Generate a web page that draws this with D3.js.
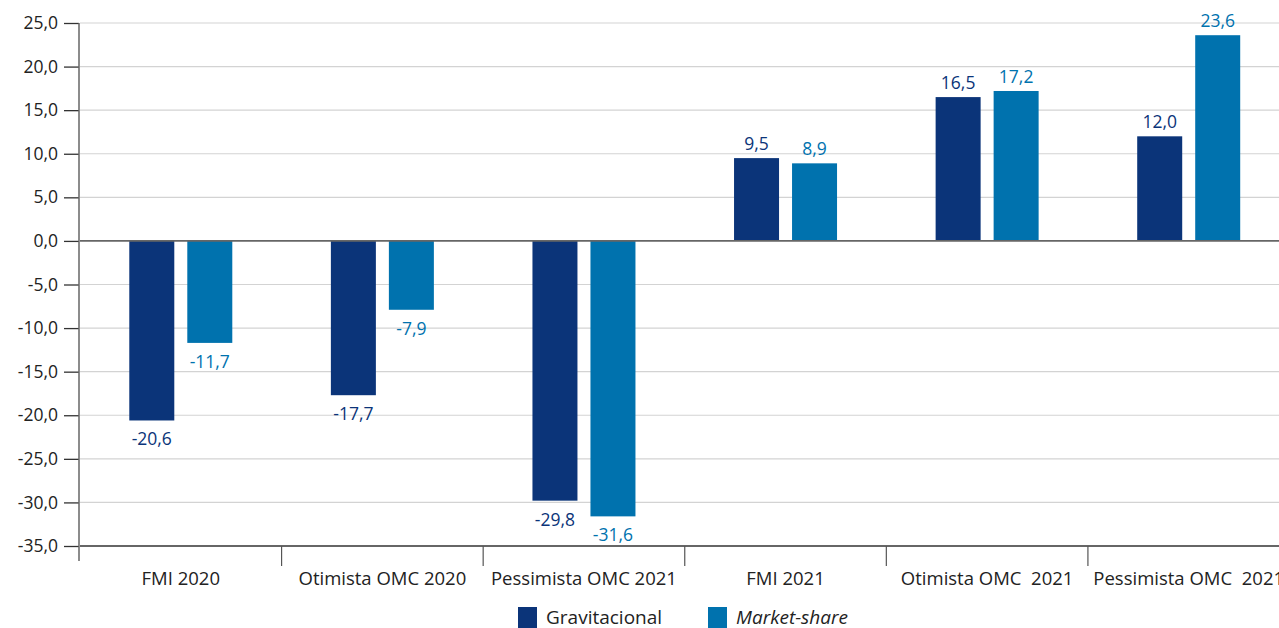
<!DOCTYPE html>
<html>
<head>
<meta charset="utf-8">
<script src="https://cdn.jsdelivr.net/npm/d3@7"></script>
<style>
  html, body { margin: 0; padding: 0; background: #fff; }
  svg { display: block; font-family: "Open Sans", "Noto Sans", sans-serif; }
</style>
</head>
<body>
<svg id="chart" width="1279" height="628"></svg>
<script>
// Categories and series values
const categories = ["FMI 2020", "Otimista OMC 2020", "Pessimista OMC 2021", "FMI 2021", "Otimista OMC  2021", "Pessimista OMC  2021"];
const gravitacional = [-20.6, -17.7, -29.8, 9.5, 16.5, 12.0];
const marketShare = [-11.7, -7.9, -31.6, 8.9, 17.2, 23.6];
const yTicks = [25, 20, 15, 10, 5, 0, -5, -10, -15, -20, -25, -30, -35];
const seriesNames = ["Gravitacional", "Market-share"];

const colors = { grav: "#0b3479", mkt: "#0072ae" };
const fmt = v => v.toFixed(1).replace(".", ",");

const svg = d3.select("#chart");
const plotLeft = 80, plotRight = 1289.5, plotTop = 23, plotBottom = 546;

const y = d3.scaleLinear().domain([-35, 25]).range([plotBottom, plotTop]);
const x0 = d3.scaleBand().domain(categories).range([plotLeft, plotRight]).paddingInner(0).paddingOuter(0);
const barW = 45, gap = 13;

// Grid lines
svg.append("g").selectAll("line").data(yTicks.filter(t => t !== 0 && t !== -35)).join("line")
  .attr("x1", plotLeft).attr("x2", 1279)
  .attr("y1", d => y(d)).attr("y2", d => y(d))
  .attr("stroke", "#d3d3d3").attr("stroke-width", 1.2);

// Y axis
const yAxis = d3.axisLeft(y).tickValues(yTicks).tickSize(15).tickFormat(fmt);
const ya = svg.append("g").attr("transform", `translate(${plotLeft - 1},0)`).call(yAxis);
ya.select(".domain").remove();
ya.selectAll(".tick line").attr("stroke", "#333").attr("stroke-width", 1.3);
ya.selectAll(".tick text").attr("x", -21).attr("fill", "#222")
  .style("font-size", "17.5px").style("font-family", "'Open Sans', sans-serif");
svg.append("line").attr("x1", plotLeft - 1).attr("x2", plotLeft - 1).attr("y1", plotTop).attr("y2", 561)
  .attr("stroke", "#666").attr("stroke-width", 1.5);

// Bars with value labels
const bars = svg.append("g");
categories.forEach((c, i) => {
  const cx = x0(c) + x0.bandwidth() / 2;
  const series = [
    { v: gravitacional[i], x: cx - gap / 2 - barW, col: colors.grav },
    { v: marketShare[i], x: cx + gap / 2, col: colors.mkt }
  ];
  series.forEach(s => {
    bars.append("rect")
      .attr("x", s.x).attr("width", barW)
      .attr("y", Math.min(y(s.v), y(0)))
      .attr("height", Math.abs(y(s.v) - y(0)))
      .attr("fill", s.col);
    bars.append("text")
      .attr("x", s.x + barW / 2)
      .attr("y", s.v >= 0 ? y(s.v) - 8 : y(s.v) + 25)
      .attr("text-anchor", "middle")
      .attr("fill", s.col)
      .style("font-size", "17.5px")
      .text(fmt(s.v));
  });
});

// Zero line and baseline
svg.append("line").attr("x1", plotLeft).attr("x2", 1279).attr("y1", y(0)).attr("y2", y(0))
  .attr("stroke", "#666").attr("stroke-width", 1.6);
svg.append("line").attr("x1", plotLeft).attr("x2", 1279).attr("y1", y(-35)).attr("y2", y(-35))
  .attr("stroke", "#333").attr("stroke-width", 1.5);

// Category separators and labels
const xa = svg.append("g");
categories.forEach((c, i) => {
  if (i > 0) {
    xa.append("line").attr("x1", x0(c)).attr("x2", x0(c)).attr("y1", y(-35)).attr("y2", 566)
      .attr("stroke", "#555").attr("stroke-width", 1.2);
  }
  xa.append("text")
    .attr("x", x0(c) + x0.bandwidth() / 2).attr("y", 585)
    .attr("text-anchor", "middle").attr("fill", "#222")
    .style("font-size", "18.5px").style("white-space", "pre")
    .attr("xml:space", "preserve")
    .text(c);
});

// Legend
const legend = svg.append("g");
const legendItems = [
  { name: seriesNames[0], col: colors.grav, x: 518, italic: false },
  { name: seriesNames[1], col: colors.mkt, x: 708, italic: true }
];
legendItems.forEach(l => {
  legend.append("rect").attr("x", l.x).attr("y", 607).attr("width", 19).attr("height", 21).attr("fill", l.col);
  legend.append("text").attr("x", l.x + 28).attr("y", 624).attr("fill", "#222")
    .style("font-size", "19px").style("font-style", l.italic ? "italic" : "normal")
    .text(l.name);
});
</script>
</body>
</html>
